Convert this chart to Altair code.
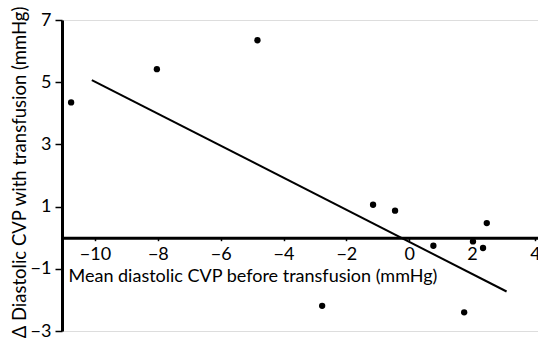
import altair as alt
import pandas as pd

# scatter data
xs = [-10.76, -8.03, -4.83, -1.15, -0.45, 0.77, 2.03, 2.35, 2.47, 1.75, -2.77]
ys = [4.35, 5.42, 6.35, 1.06, 0.87, -0.26, -0.12, -0.33, 0.47, -2.4, -2.19]

# regression line end points
line_x = [-10.1, 3.1]
line_y = [5.07, -1.73]

x_ticks = [-10, -8, -6, -4, -2, 0, 2, 4]
y_ticks = [7, 5, 3, 1, -1, -3]

x_domain = [-11.05, 4.1]
y_domain = [-3, 7]

FONT = "Lato"
W, H = 476, 311
zero_px = H * (y_domain[1] - 0) / (y_domain[1] - y_domain[0])

pts = pd.DataFrame({"x": xs, "y": ys})
ln = pd.DataFrame({"x": line_x, "y": line_y})

xscale = alt.Scale(domain=x_domain, nice=False, zero=False)
yscale = alt.Scale(domain=y_domain, nice=False, zero=False)

xaxis = alt.Axis(
    values=x_ticks, offset=-(H - zero_px), domainWidth=3, domainColor="black",
    tickColor="black", tickSize=3, tickWidth=1.5, labelFontSize=18, labelFont=FONT,
    labelColor="black", labelPadding=5, grid=False,
    title="Mean diastolic CVP before transfusion (mmHg)", titleFont=FONT,
    titleFontSize=18, titleFontWeight="normal", titleColor="black",
    titleAnchor="start", titleAlign="left", titleX=6, titleY=44,
    titleBaseline="alphabetic", labelFlush=False,
)
yaxis = alt.Axis(
    values=y_ticks, domainWidth=3, domainColor="black", tickColor="black",
    tickSize=7, tickWidth=1.5, labelFontSize=18, labelFont=FONT, labelColor="black",
    labelPadding=4, grid=False, labelFlush=False,
    title="Δ Diastolic CVP with transfusion (mmHg)", titleFont=FONT,
    titleFontSize=18.5, titleFontWeight="normal", titleColor="black",
    titleX=-37, titleY=152, titleAngle=270, titleAlign="center",
    titleBaseline="alphabetic",
)

points = alt.Chart(pts).mark_circle(size=40, color="black", opacity=1).encode(
    x=alt.X("x:Q", scale=xscale, axis=xaxis),
    y=alt.Y("y:Q", scale=yscale, axis=yaxis),
)
line = alt.Chart(ln).mark_line(color="black", strokeWidth=2).encode(
    x=alt.X("x:Q", scale=xscale),
    y=alt.Y("y:Q", scale=yscale),
)

chart = alt.layer(points, line).properties(
    width=W, height=H,
    autosize=alt.AutoSizeParams(type="none"),
    padding={"left": 62, "top": 20, "right": 0, "bottom": 16},
).configure_view(stroke=None).configure(background="white")

chart.save("out.html", embed_options={"renderer": "svg", "actions": False})
